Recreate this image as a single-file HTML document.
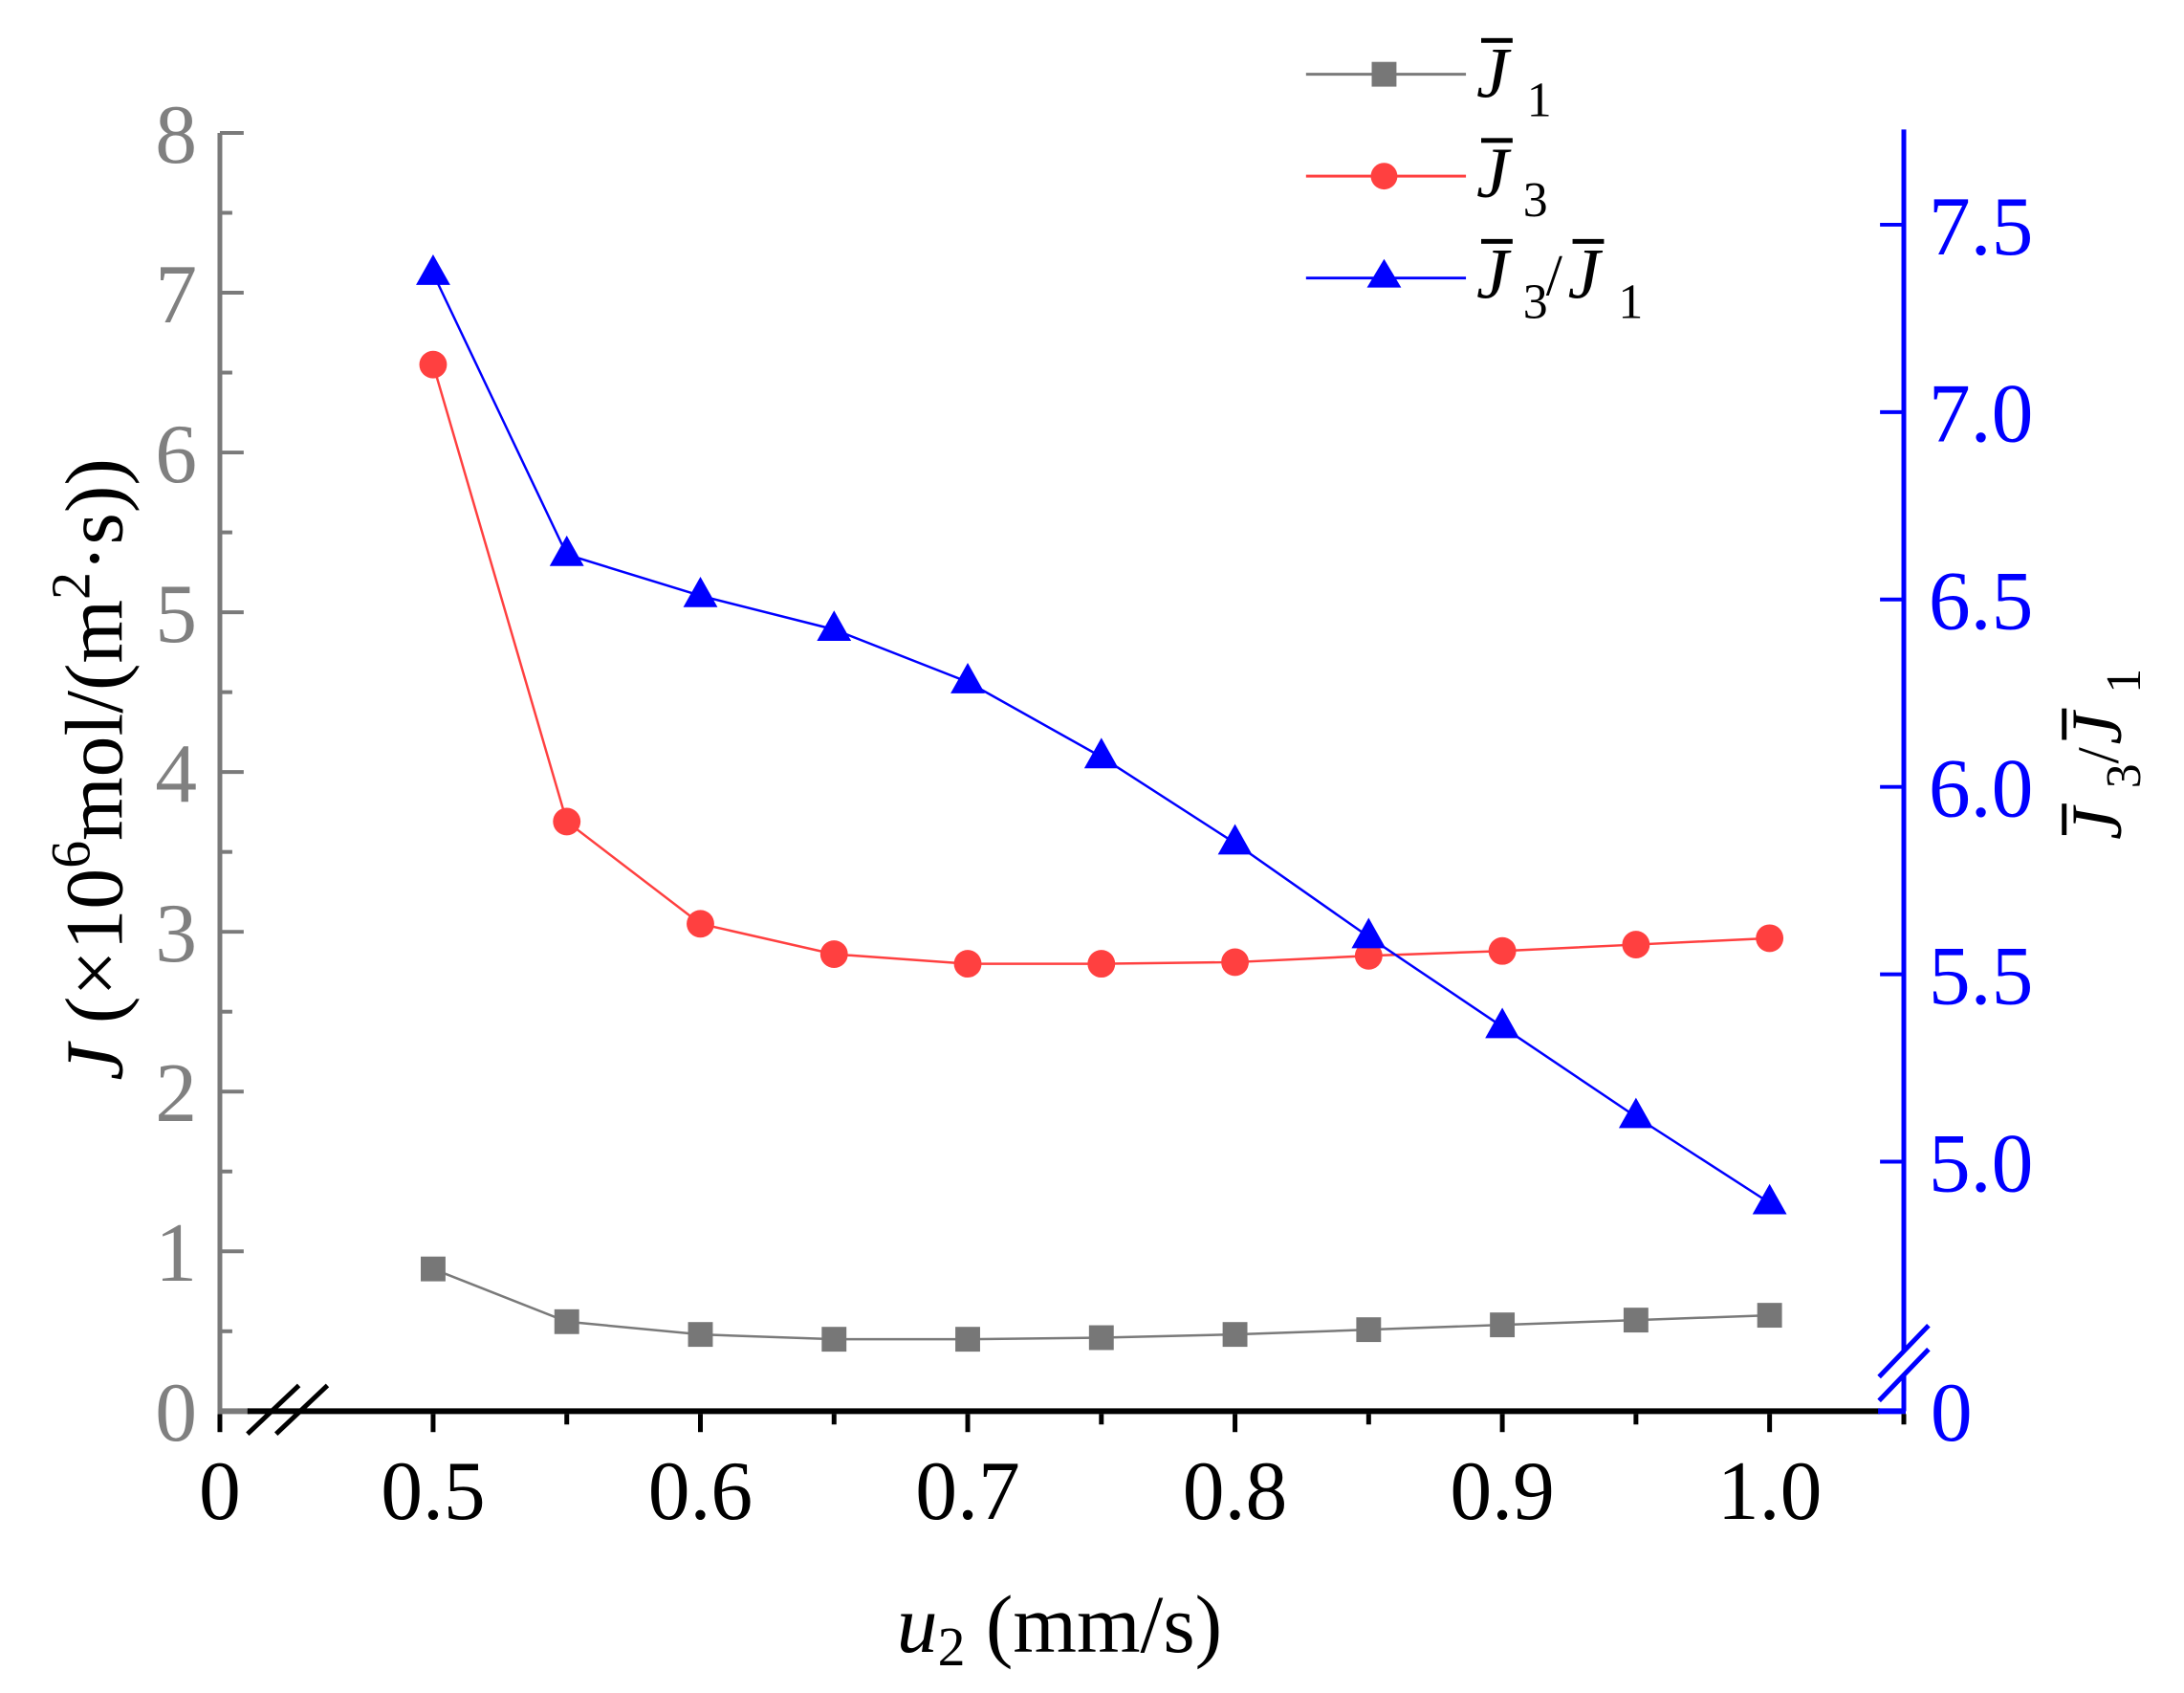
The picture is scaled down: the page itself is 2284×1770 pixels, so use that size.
<!DOCTYPE html>
<html><head><meta charset="utf-8"><style>
html,body{margin:0;padding:0;background:#fff}
svg{display:block}
text{font-family:"Liberation Serif",serif}
</style></head><body>
<svg id="chart" width="2284" height="1770" viewBox="0 0 2284 1770" xmlns="http://www.w3.org/2000/svg">
<g transform="scale(0.9955)">
<g id="axes"></g>
<g id="series"></g>
<g id="legend">
  <line x1="1372" y1="78" x2="1540" y2="78" stroke="#7a7a7a" stroke-width="3"/>
  <rect x="1441" y="65" width="26" height="26" fill="#777"/>
  <line x1="1372" y1="185" x2="1540" y2="185" stroke="#ff4040" stroke-width="3"/>
  <circle cx="1454" cy="185" r="14" fill="#ff4040"/>
  <line x1="1372" y1="292" x2="1540" y2="292" stroke="#0000ff" stroke-width="3"/>
  <polygon points="1454,272 1472,302 1436,302" fill="#0000ff"/>
  <g>
    <rect x="1556" y="40" width="33" height="5" fill="#000"/>
    <text x="1551" y="102" font-size="76" font-style="italic">J</text>
    <text x="1604" y="122" font-size="52">1</text>
  </g>
  <g>
    <rect x="1556" y="145" width="33" height="5" fill="#000"/>
    <text x="1551" y="207" font-size="76" font-style="italic">J</text>
    <text x="1600" y="227" font-size="52">3</text>
  </g>
  <g>
    <rect x="1556" y="251" width="33" height="5" fill="#000"/>
    <text x="1551" y="313" font-size="76" font-style="italic">J</text>
    <text x="1600" y="334" font-size="52">3</text>
    <text x="1624" y="310" font-size="62">/</text>
    <rect x="1652" y="251" width="33" height="5" fill="#000"/>
    <text x="1647" y="313" font-size="76" font-style="italic">J</text>
    <text x="1700" y="334" font-size="52">1</text>
  </g>
</g>
<text x="1113" y="1735" font-size="86" text-anchor="middle"><tspan font-style="italic">u</tspan><tspan font-size="58" dy="14">2</tspan><tspan dy="-14"> (mm/s)</tspan></text>
<text transform="translate(128,808) rotate(-90)" font-size="86" text-anchor="middle"><tspan font-style="italic">J</tspan><tspan> (×10</tspan><tspan font-size="58" dy="-34">6</tspan><tspan dy="34">mol/(m</tspan><tspan font-size="58" dy="-34">2</tspan><tspan dy="34">·s))</tspan></text>
<g transform="translate(2228,782) rotate(-90)">
  <rect x="-95" y="-62" width="33" height="5" fill="#000"/>
  <text x="-100" y="0" font-size="76" font-style="italic">J</text>
  <text x="-46" y="20" font-size="52">3</text>
  <text x="-20" y="-3" font-size="62">/</text>
  <rect x="5" y="-62" width="33" height="5" fill="#000"/>
  <text x="0" y="0" font-size="76" font-style="italic">J</text>
  <text x="54" y="20" font-size="52">1</text>
</g>
</g>
</svg>
<script>
const xValues=[0.5,0.55,0.6,0.65,0.7,0.75,0.8,0.85,0.9,0.95,1.0];
const j1Values=[0.89,0.56,0.48,0.45,0.45,0.46,0.48,0.51,0.54,0.57,0.60];
const j3Values=[6.55,3.69,3.05,2.86,2.80,2.80,2.81,2.85,2.88,2.92,2.96];
const ratioValues=[7.37,6.62,6.51,6.42,6.28,6.08,5.85,5.60,5.36,5.12,4.89];
const xTickValues=[0.5,0.6,0.7,0.8,0.9,1.0];
const xTickLabels=["0.5","0.6","0.7","0.8","0.9","1.0"];
const yLeftTicks=[0,1,2,3,4,5,6,7,8];
const yRightTicks=[5.0,5.5,6.0,6.5,7.0,7.5];
const yRightLabels=["5.0","5.5","6.0","6.5","7.0","7.5"];

const NS="http://www.w3.org/2000/svg";
const AX=231, AY=1482, RX=2000;
function xs(v){return 455+(v-0.5)*2808;}
function yl(v){return AY-v*167.8;}
function yr(v){return 1220-(v-5)*393.6;}
function mk(tag,attrs,parent){const e=document.createElementNS(NS,tag);for(const k in attrs)e.setAttribute(k,attrs[k]);parent.appendChild(e);return e;}
const axes=document.getElementById('axes');
const ser=document.getElementById('series');
const FS=88;

let e=mk('line',{x1:AX,y1:AY,x2:262,y2:AY,stroke:'#7a7a7a','stroke-width':6},axes);


e=mk('line',{x1:260,y1:AY,x2:1975,y2:AY,stroke:'#000','stroke-width':6},axes);


e=mk('line',{x1:1973,y1:AY,x2:RX+2,y2:AY,stroke:'#0000ff','stroke-width':6},axes);


e=mk('line',{x1:AX,y1:AY+3,x2:AX,y2:AY+22,stroke:'#000','stroke-width':5},axes);


e=mk('text',{x:AX,y:1595,'font-size':FS,'text-anchor':'middle',fill:'#000'},axes);
e.textContent='0';


for(let i=0;i<xValues.length;i++){
  const x=xs(xValues[i]);
  e=mk('line',{x1:x,y1:AY+3,x2:x,y2:i%2==0?AY+22:AY+14,stroke:'#000','stroke-width':5},axes);
  
  
}
xTickValues.forEach((v,i)=>{
  e=mk('text',{x:xs(v),y:1595,'font-size':FS,'text-anchor':'middle',fill:'#000'},axes);
  e.textContent=xTickLabels[i];
  
  
});
e=mk('line',{x1:RX,y1:AY+3,x2:RX,y2:AY+14,stroke:'#000','stroke-width':5},axes);


[0,30].forEach(d=>{
  e=mk('line',{x1:260+d,y1:1506,x2:314+d,y2:1455,stroke:'#000','stroke-width':5},axes);
  
  
});
e=mk('line',{x1:AX,y1:AY+3,x2:AX,y2:yl(8),stroke:'#7a7a7a','stroke-width':5},axes);


for(let v=0;v<=8;v+=0.5){
  e=mk('line',{x1:AX,y1:yl(v),x2:Number.isInteger(v)?AX+25:AX+13,y2:yl(v),stroke:'#7a7a7a','stroke-width':4},axes);
  
  
}
yLeftTicks.forEach(v=>{
  e=mk('text',{x:207,y:yl(v)+31,'font-size':FS,'text-anchor':'end',fill:'#808080'},axes);
  e.textContent=String(v);
  
  
});
e=mk('line',{x1:RX,y1:AY,x2:RX,y2:136,stroke:'#0000ff','stroke-width':5},axes);


e=mk('line',{x1:RX,y1:1418,x2:RX,y2:1444,stroke:'#fff','stroke-width':7},axes);


[0,25].forEach(d=>{
  e=mk('line',{x1:1974,y1:1446+d,x2:2026,y2:1392+d,stroke:'#0000ff','stroke-width':5},axes);
  
  
});
yRightTicks.forEach((v,i)=>{
  e=mk('line',{x1:RX-25,y1:yr(v),x2:RX,y2:yr(v),stroke:'#0000ff','stroke-width':4},axes);
  
  
  e=mk('text',{x:2026,y:yr(v)+31,'font-size':FS,fill:'#0000ff'},axes);
  e.textContent=yRightLabels[i];
  
  
});
e=mk('text',{x:2028,y:AY+31,'font-size':FS,fill:'#0000ff'},axes);
e.textContent='0';



function pts(vals,f){return vals.map((v,i)=>xs(xValues[i])+','+f(v)).join(' ');}
e=mk('polyline',{points:pts(j1Values,yl),fill:'none',stroke:'#7a7a7a','stroke-width':2.5},ser);


e=mk('polyline',{points:pts(j3Values,yl),fill:'none',stroke:'#ff4040','stroke-width':2.5},ser);


e=mk('polyline',{points:pts(ratioValues,yr),fill:'none',stroke:'#0000ff','stroke-width':2.5},ser);


xValues.forEach((xv,i)=>{
  const x=xs(xv);
  e=mk('rect',{x:x-13,y:yl(j1Values[i])-13,width:26,height:26,fill:'#777'},ser);
  
  
  e=mk('circle',{cx:x,cy:yl(j3Values[i]),r:14.5,fill:'#ff4040'},ser);
  
  
  const y=yr(ratioValues[i]);
  e=mk('polygon',{points:`${x},${y-20} ${x+18},${y+12} ${x-18},${y+12}`,fill:'#0000ff'},ser);
  
  
});
</script>
</body></html>
